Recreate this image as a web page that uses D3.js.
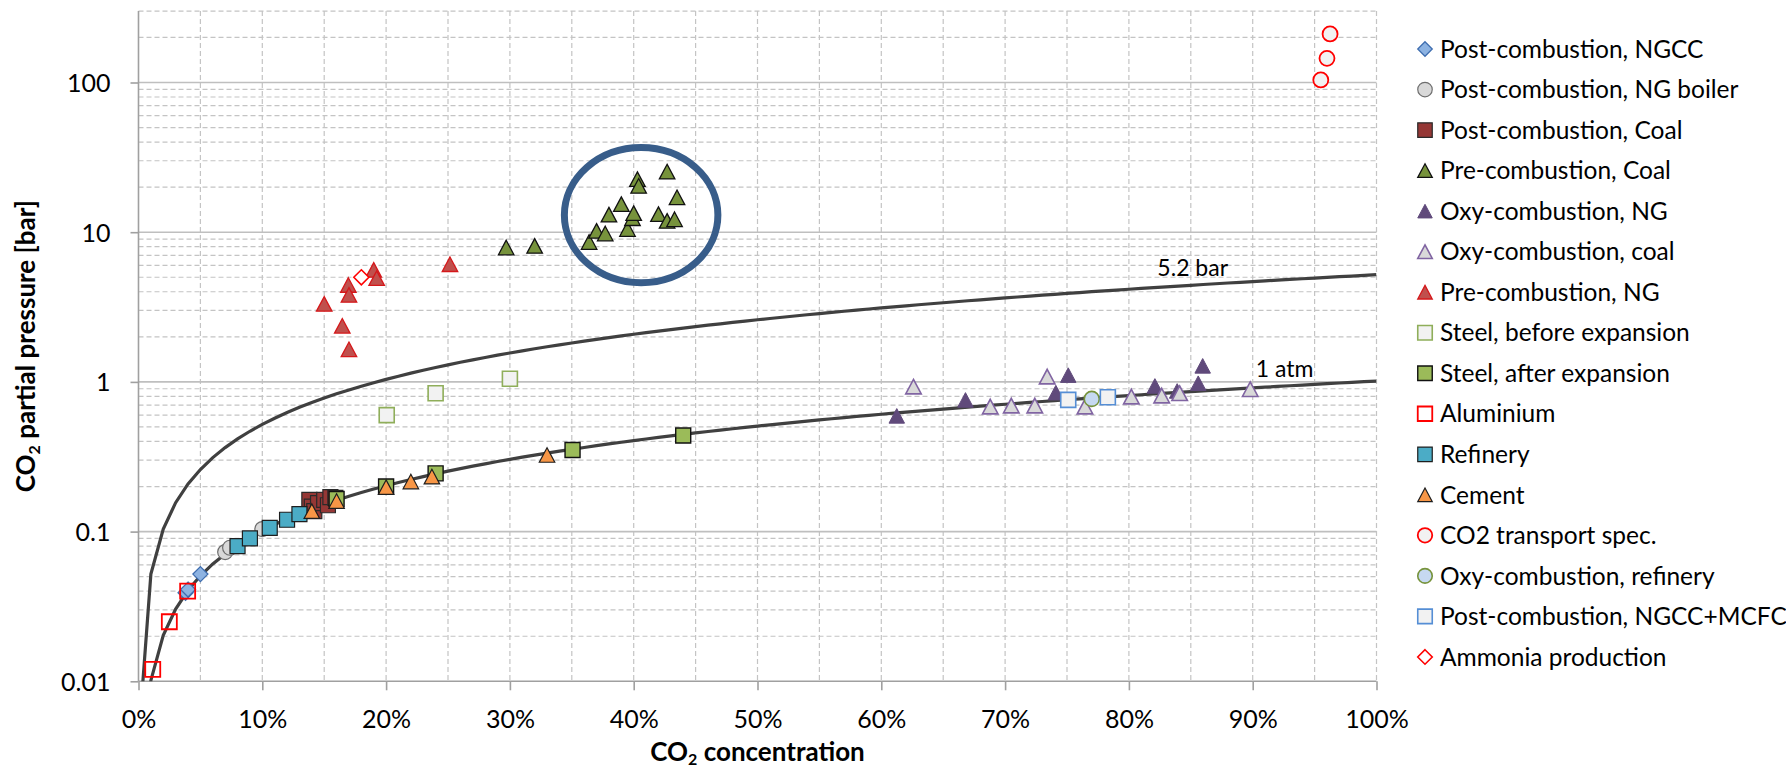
<!DOCTYPE html>
<html><head><meta charset="utf-8">
<script src="https://cdn.jsdelivr.net/npm/d3@7"></script>
<style>
body{margin:0;background:#fff}
svg{display:block}
text{font-family:Lato, "Open Sans", sans-serif; fill:#000}
</style>
</head><body>
<svg id="chart" width="1786" height="770"></svg>
<script>
// ---------------- DATA ----------------
const seriesNames = [
  "Post-combustion, NGCC","Post-combustion, NG boiler","Post-combustion, Coal",
  "Pre-combustion, Coal","Oxy-combustion, NG","Oxy-combustion, coal",
  "Pre-combustion, NG","Steel, before expansion","Steel, after expansion",
  "Aluminium","Refinery","Cement","CO2 transport spec.",
  "Oxy-combustion, refinery","Post-combustion, NGCC+MCFC","Ammonia production"
];
// [CO2 concentration (fraction), CO2 partial pressure (bar)]
const postNGCC     = [[0.038,0.039],[0.040,0.041],[0.050,0.052]];
const postNGBoiler = [[0.070,0.073],[0.074,0.078],[0.100,0.104]];
const postCoal     = [[0.138,0.163],[0.140,0.147],[0.142,0.137],[0.145,0.155],[0.150,0.163],[0.153,0.150],[0.155,0.170],[0.159,0.168]];
const preCoal      = [[0.297,7.9],[0.320,8.1],[0.364,8.6],[0.370,10.2],[0.377,9.8],[0.380,13.1],[0.390,15.4],[0.395,10.5],[0.399,12.4],[0.400,13.4],[0.403,22.6],[0.404,20.4],[0.420,13.2],[0.427,11.9],[0.433,12.2],[0.427,25.4],[0.435,17.1]];
const oxyNG        = [[0.6125,0.593],[0.668,0.758],[0.741,0.848],[0.751,1.11],[0.821,0.94],[0.839,0.87],[0.856,0.98],[0.8596,1.28]];
const oxyCoal      = [[0.626,0.93],[0.688,0.684],[0.705,0.695],[0.724,0.695],[0.734,1.085],[0.7645,0.684],[0.802,0.798],[0.8265,0.81],[0.841,0.84],[0.898,0.894]];
const preNG        = [[0.150,3.32],[0.1646,2.37],[0.170,1.65],[0.1695,4.44],[0.170,3.81],[0.190,5.6],[0.1924,4.93],[0.2516,6.11]];
const steelBefore  = [[0.2005,0.60],[0.240,0.84],[0.300,1.05]];
const steelAfter   = [[0.160,0.165],[0.200,0.200],[0.240,0.245],[0.3506,0.351],[0.440,0.438]];
const aluminium    = [[0.0115,0.012],[0.0249,0.025],[0.0397,0.040]];
const refinery     = [[0.080,0.080],[0.090,0.090],[0.106,0.106],[0.120,0.120],[0.130,0.131]];
const cement       = [[0.140,0.137],[0.160,0.160],[0.200,0.198],[0.220,0.216],[0.237,0.233],[0.330,0.325]];
const co2Spec      = [[0.955,104],[0.960,145],[0.9625,211]];
const oxyRefinery  = [[0.770,0.77]];
const ngccMcfc     = [[0.751,0.758],[0.783,0.79]];
const ammonia      = [[0.180,5.0]];

// iso-pressure reference lines (total pressure in bar) and their labels
const refPressures = [5.2, 1.01325];
const refLabels    = ["5.2 bar", "1 atm"];
const refLabelPos  = [[0.823, 5.1], [0.9025, 1.075]];
const lineConc     = [0.001].concat(d3.range(1, 101).map(i => i / 100));

// highlight ellipse extent (concentration, bar)
const ellipseConc = [0.344, 0.468];
const ellipseP    = [4.6, 36.8];

// axis ticks
const xTicks = [0,0.1,0.2,0.3,0.4,0.5,0.6,0.7,0.8,0.9,1.0];
const xTickLabels = ["0%","10%","20%","30%","40%","50%","60%","70%","80%","90%","100%"];
const yTicks = [0.01,0.1,1,10,100];
const yTickLabels = ["0.01","0.1","1","10","100"];
const yDomain = [0.01, 300];

// ---------------- STYLES ----------------
const seriesData = [postNGCC,postNGBoiler,postCoal,preCoal,oxyNG,oxyCoal,preNG,steelBefore,steelAfter,aluminium,refinery,cement,co2Spec,oxyRefinery,ngccMcfc,ammonia];
const styles = [
  {shape:"diamond", fill:"#8DB3E2", stroke:"#3E6DAF", sw:1.3},
  {shape:"circle",  fill:"#D9D9D9", stroke:"#6E6E6E", sw:1.2},
  {shape:"square",  fill:"#953735", stroke:"#2A2A2A", sw:1.2},
  {shape:"triangle",fill:"#77933C", stroke:"#111111", sw:1.3},
  {shape:"triangle",fill:"#604A7B", stroke:"#604A7B", sw:1.0},
  {shape:"triangle",fill:"#D9D9D9", stroke:"#8064A2", sw:1.6},
  {shape:"triangle",fill:"#C0504D", stroke:"#D5181B", sw:1.3},
  {shape:"square",  fill:"#F2F2F2", stroke:"#8FAE5A", sw:1.6},
  {shape:"square",  fill:"#9BBB59", stroke:"#111111", sw:1.4},
  {shape:"square",  fill:"none",    stroke:"#FF0000", sw:1.8},
  {shape:"square",  fill:"#4BACC6", stroke:"#1E1E1E", sw:1.2},
  {shape:"triangle",fill:"#F79646", stroke:"#1E1E1E", sw:1.2},
  {shape:"circle",  fill:"#F2F2F2", stroke:"#FF0000", sw:1.8},
  {shape:"circle",  fill:"#C6D9F1", stroke:"#77933C", sw:1.6},
  {shape:"square",  fill:"#F2F2F2", stroke:"#558ED5", sw:1.6},
  {shape:"diamond", fill:"#FFFFFF", stroke:"#FF0000", sw:1.6}
];

// ---------------- LAYOUT ----------------
const svg = d3.select("#chart");
const W = 1786, H = 770;
svg.append("rect").attr("width",W).attr("height",H).attr("fill","#fff");
const plot = {left:138.5, right:1376.5, bottom:681.3};
const decadePx = 149.7;
const x = d3.scaleLinear().domain([0,1]).range([plot.left, plot.right]);
const y = d3.scaleLog().domain(yDomain)
  .range([plot.bottom, plot.bottom - decadePx*Math.log10(yDomain[1]/yDomain[0])]);
const plotTop = y(yDomain[1]);

const grid = svg.append("g");
// vertical dashed grid every 5%
const vgrid = d3.range(1, 21).map(i => i * 0.05);
grid.selectAll(".vg").data(vgrid).join("line")
  .attr("x1", d => x(d)).attr("x2", d => x(d))
  .attr("y1", plotTop).attr("y2", plot.bottom)
  .attr("stroke", "#C4C4C4").attr("stroke-width", 1.2).attr("stroke-dasharray", "5,3");
// horizontal minor grid
const minorY = y.ticks().filter(v => v > yDomain[0] && v <= yDomain[1] && Math.abs(Math.log10(v) - Math.round(Math.log10(v))) > 1e-6);
grid.selectAll(".hm").data(minorY).join("line")
  .attr("x1", plot.left).attr("x2", plot.right)
  .attr("y1", d => y(d)).attr("y2", d => y(d))
  .attr("stroke", "#C4C4C4").attr("stroke-width", 1.2).attr("stroke-dasharray", "5,3");
// horizontal major grid
grid.selectAll(".hM").data(yTicks.slice(1)).join("line")
  .attr("x1", plot.left).attr("x2", plot.right)
  .attr("y1", d => y(d)).attr("y2", d => y(d))
  .attr("stroke", "#BFBFBF").attr("stroke-width", 1.6);

// axes
const xAxis = d3.axisBottom(x).tickValues(xTicks).tickFormat((d,i) => xTickLabels[i]).tickSize(9).tickPadding(20);
const gx = svg.append("g").attr("transform", `translate(0,${plot.bottom})`).call(xAxis);
const yAxis = d3.axisLeft(y).tickValues(yTicks).tickFormat((d,i) => yTickLabels[i]).tickSize(8).tickPadding(20);
const gy = svg.append("g").attr("transform", `translate(${plot.left},0)`).call(yAxis);
[gx, gy].forEach(g => {
  g.select(".domain").attr("stroke", "#A0A0A0").attr("stroke-width", 1.6);
  g.selectAll(".tick line").attr("stroke", "#A0A0A0").attr("stroke-width", 1.6);
  g.selectAll(".tick text").attr("font-family", "Lato").attr("font-size", 25).attr("fill", "#000");
});
gy.select(".domain").attr("d", `M0,${plotTop}V${plot.bottom}`);
gx.select(".domain").attr("d", `M${plot.left},0H${plot.right}`);
gx.selectAll(".tick text").attr("dy", "0.71em");
gy.selectAll(".tick text").attr("dy", "0.36em");

// clip
svg.append("clipPath").attr("id","clip").append("rect")
  .attr("x", plot.left).attr("y", plotTop).attr("width", plot.right - plot.left).attr("height", plot.bottom - plotTop);

// reference lines
const lineGen = d3.line().x(d => x(d[0])).y(d => y(d[1]));
const refG = svg.append("g").attr("clip-path", "url(#clip)");
refPressures.forEach(P => {
  refG.append("path").datum(lineConc.map(c => [c, P * c]))
    .attr("d", lineGen).attr("fill", "none").attr("stroke", "#404040").attr("stroke-width", 3.2);
});
refLabels.forEach((t, i) => {
  svg.append("text").attr("x", x(refLabelPos[i][0])).attr("y", y(refLabelPos[i][1]))
    .attr("font-size", 23).text(t);
});

// markers
function markerPath(shape, s) {
  const h = s / 2;
  if (shape === "square") return `M${-h},${-h}h${s}v${s}h${-s}Z`;
  if (shape === "diamond") return `M0,${-h}L${h},0L0,${h}L${-h},0Z`;
  if (shape === "triangle") { const th = s * 0.94 / 2; return `M0,${-th}L${h},${th}L${-h},${th}Z`; }
  if (shape === "circle") return `M${h},0A${h},${h} 0 1,1 ${-h},0A${h},${h} 0 1,1 ${h},0Z`;
}
const markerSize = {square:15, diamond:15, triangle:15.5, circle:15};
const ptsG = svg.append("g");
seriesData.forEach((data, i) => {
  const st = styles[i];
  ptsG.append("g").selectAll("path").data(data).join("path")
    .attr("transform", d => `translate(${x(d[0])},${y(d[1])})`)
    .attr("d", markerPath(st.shape, markerSize[st.shape]))
    .attr("fill", st.fill).attr("stroke", st.stroke).attr("stroke-width", st.sw)
    .attr("stroke-linejoin", "miter");
});

// highlight ellipse
const ecx = (x(ellipseConc[0]) + x(ellipseConc[1])) / 2;
const ecy = (y(ellipseP[0]) + y(ellipseP[1])) / 2;
svg.append("ellipse").attr("cx", ecx).attr("cy", ecy)
  .attr("rx", (x(ellipseConc[1]) - x(ellipseConc[0])) / 2)
  .attr("ry", (y(ellipseP[0]) - y(ellipseP[1])) / 2)
  .attr("fill", "none").attr("stroke", "#385D8A").attr("stroke-width", 7);

// axis titles
const xt = svg.append("text").attr("x", (plot.left + plot.right) / 2).attr("y", 761)
  .attr("text-anchor", "middle").attr("font-weight", "bold").attr("font-size", 26);
xt.append("tspan").text("CO");
xt.append("tspan").attr("font-size", 16).attr("dy", 4).text("2");
xt.append("tspan").attr("dy", -4).text(" concentration");

const yt = svg.append("text").attr("transform", `translate(35,${(plotTop + plot.bottom) / 2}) rotate(-90)`)
  .attr("text-anchor", "middle").attr("font-weight", "bold").attr("font-size", 26);
yt.append("tspan").text("CO");
yt.append("tspan").attr("font-size", 16).attr("dy", 5).text("2");
yt.append("tspan").attr("dy", -5).text(" partial pressure [bar]");

// legend
const leg = svg.append("g");
const legX = 1425, legY0 = 49, legStep = 40.53;
seriesNames.forEach((name, i) => {
  const st = styles[i];
  const cy = legY0 + i * legStep;
  leg.append("path").attr("transform", `translate(${legX},${cy})`)
    .attr("d", markerPath(st.shape, 14.5))
    .attr("fill", st.fill === "none" ? "#fff" : st.fill).attr("stroke", st.stroke).attr("stroke-width", st.sw);
  leg.append("text").attr("x", legX + 15).attr("y", cy + 8.7).attr("font-size", 24.5).text(name);
});
</script>
</body></html>
